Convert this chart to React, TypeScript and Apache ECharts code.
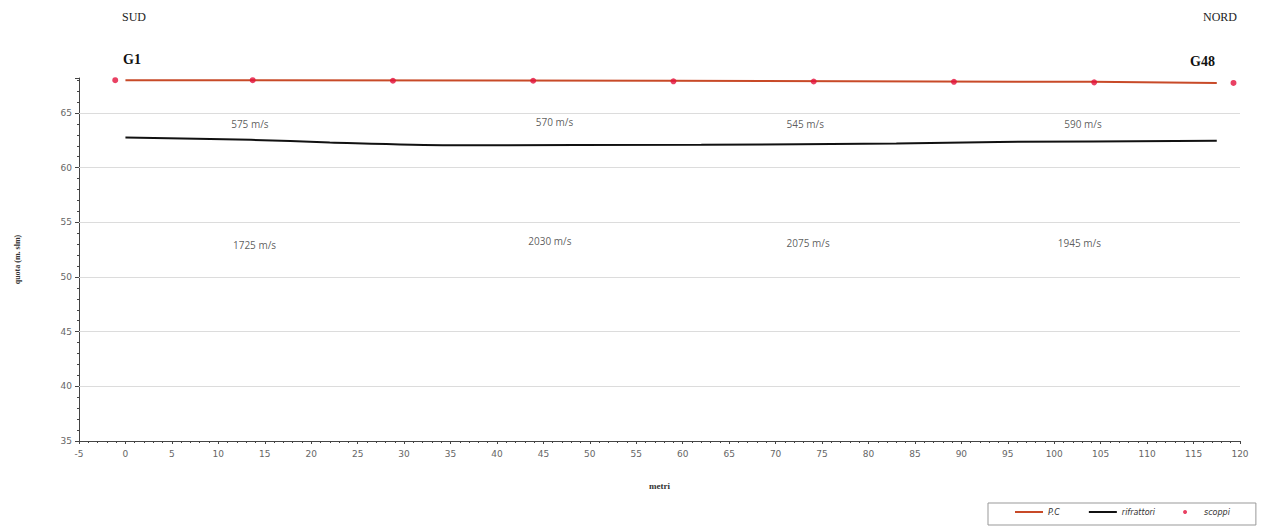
import React, { useEffect, useRef } from "react";
import * as echarts from "echarts";

// P.C. (piano campagna) profile
const pcX = [0, 58.5, 104, 117.5];
const pcY = [68.0, 67.95, 67.85, 67.75];

// rifrattori profile
const rifX = [0, 13.5, 22, 35, 62, 83, 94, 117.5];
const rifY = [62.75, 62.55, 62.3, 62.05, 62.1, 62.2, 62.35, 62.45];

// scoppi (shot points)
const scoppiX = [-1.1, 13.7, 28.8, 43.9, 59, 74.1, 89.2, 104.3, 119.3];
const scoppiY = [68.0, 68.0, 67.95, 67.95, 67.9, 67.88, 67.85, 67.8, 67.75];

// velocity labels
const velUpperX = [13.4, 46.2, 73.2, 103.1];
const velUpperY = [64.0, 64.2, 64.0, 64.0];
const velUpper = ["575 m/s", "570 m/s", "545 m/s", "590 m/s"];
const velLowerX = [13.9, 45.7, 73.5, 102.7];
const velLowerY = [52.95, 53.3, 53.1, 53.1];
const velLower = ["1725 m/s", "2030 m/s", "2075 m/s", "1945 m/s"];

// horizontal grid values
const gridValues = [40, 45, 50, 55, 60, 65];

const xMin = -5;
const xMax = 120;
const yMin = 35;
const yMax = 68.2;

export default function App() {
  const ref = useRef<HTMLDivElement>(null);

  useEffect(() => {
    if (!ref.current) return;
    const chart = echarts.init(ref.current, undefined, { renderer: "svg" });
    const tickLabel = { color: "#666", fontSize: 9, fontFamily: "DejaVu Sans" };
    const velLabelStyle = {
      show: true,
      position: "inside",
      color: "#333",
      fontSize: 10,
      fontFamily: "Open Sans",
    };
    chart.setOption({
      animation: false,
      backgroundColor: "#fff",
      grid: { left: 79, right: 21, top: 78, bottom: 88, containLabel: false },
      xAxis: {
        type: "value",
        min: xMin,
        max: xMax,
        interval: 5,
        name: "metri",
        nameLocation: "middle",
        nameGap: 40,
        nameTextStyle: {
          fontFamily: "Liberation Serif",
          fontWeight: "bold",
          fontSize: 9,
          color: "#333",
        },
        axisLine: { show: true, onZero: false, lineStyle: { color: "#444", width: 1 } },
        axisTick: { show: true, length: 3, lineStyle: { color: "#444" } },
        minorTick: { show: true, splitNumber: 5, length: 2, lineStyle: { color: "#444" } },
        axisLabel: { ...tickLabel, margin: 8 },
        splitLine: { show: false },
      },
      yAxis: {
        type: "value",
        min: yMin,
        max: yMax,
        interval: 5,
        name: "quota (m. slm)",
        nameLocation: "middle",
        nameGap: 58,
        nameTextStyle: {
          fontFamily: "Liberation Serif",
          fontWeight: "bold",
          fontSize: 8,
          color: "#333",
        },
        axisLine: { show: true, onZero: false, lineStyle: { color: "#444", width: 1 } },
        axisTick: { show: true, length: 4, lineStyle: { color: "#444" } },
        minorTick: { show: true, splitNumber: 5, length: 2, lineStyle: { color: "#444" } },
        axisLabel: { ...tickLabel, margin: 7, showMaxLabel: false },
        splitLine: { show: false },
      },
      legend: {
        left: 988,
        top: 503,
        width: 237,
        borderColor: "#999",
        borderWidth: 1,
        padding: [5, 26, 9, 26],
        itemGap: 28,
        itemWidth: 28,
        itemHeight: 4,
        textStyle: {
          fontFamily: "DejaVu Sans",
          fontStyle: "italic",
          fontSize: 8,
          color: "#333",
        },
        data: [
          { name: "P.C", itemStyle: { opacity: 0 } },
          { name: "rifrattori", itemStyle: { opacity: 0 } },
          { name: "scoppi" },
        ],
      },
      series: [
        {
          name: "P.C",
          type: "line",
          data: pcX.map((x, i) => [x, pcY[i]]),
          showSymbol: false,
          symbol: "none",
          lineStyle: { color: "#c84a28", width: 2 },
          itemStyle: { color: "#c84a28" },
          z: 3,
        },
        {
          name: "rifrattori",
          type: "line",
          smooth: 0.3,
          data: rifX.map((x, i) => [x, rifY[i]]),
          showSymbol: false,
          symbol: "none",
          lineStyle: { color: "#111", width: 2 },
          itemStyle: { color: "#111" },
          markLine: {
            silent: true,
            symbol: ["none", "none"],
            label: { show: false },
            lineStyle: { color: "#dcdcdc", width: 1, type: "solid" },
            data: gridValues.map((v) => ({ yAxis: v })),
          },
          z: 3,
        },
        {
          name: "scoppi",
          type: "scatter",
          data: scoppiX.map((x, i) => [x, scoppiY[i]]),
          symbol: "circle",
          symbolSize: 6,
          itemStyle: { color: "#e3123c" },
          z: 4,
        },
        {
          name: "velUpper",
          type: "scatter",
          silent: true,
          symbolSize: 0,
          data: velUpperX.map((x, i) => ({ value: [x, velUpperY[i]], name: velUpper[i] })),
          label: { ...velLabelStyle, formatter: (p: any) => p.name },
        },
        {
          name: "velLower",
          type: "scatter",
          silent: true,
          symbolSize: 0,
          data: velLowerX.map((x, i) => ({ value: [x, velLowerY[i]], name: velLower[i] })),
          label: { ...velLabelStyle, formatter: (p: any) => p.name },
        },
      ],
      graphic: [
        {
          type: "text",
          left: 122,
          top: 11,
          style: { text: "SUD", font: "12px 'Liberation Serif'", fill: "#222" },
        },
        {
          type: "text",
          left: 1203,
          top: 11,
          style: { text: "NORD", font: "12px 'Liberation Serif'", fill: "#222" },
        },
        {
          type: "text",
          left: 123,
          top: 52,
          style: { text: "G1", font: "bold 14px 'Liberation Serif'", fill: "#111" },
        },
        {
          type: "text",
          left: 1190,
          top: 54,
          style: { text: "G48", font: "bold 14px 'Liberation Serif'", fill: "#111" },
        },
      ],
    });
    return () => chart.dispose();
  }, []);

  return (
    <div
      ref={ref}
      style={{ position: "fixed", left: 0, top: 0, width: 1261, height: 529, background: "#fff" }}
    />
  );
}
